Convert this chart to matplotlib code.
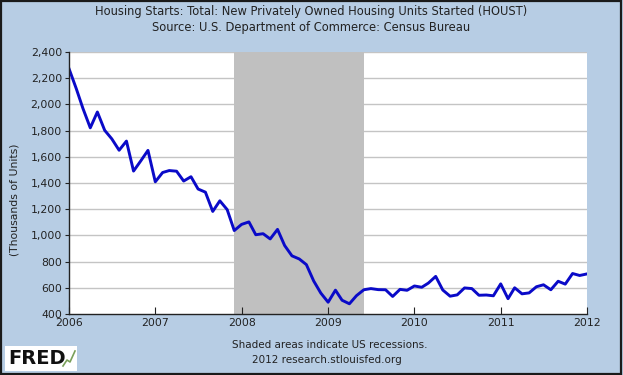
import matplotlib
matplotlib.use("Agg")
import matplotlib.pyplot as plt
import matplotlib.dates as mdates
from matplotlib.ticker import FuncFormatter
from matplotlib.patches import Rectangle
import pandas as pd

# HOUST, thousands of units, monthly Jan 2006 - Jan 2012
starts_2006 = [2273, 2119, 1969, 1821, 1942, 1802, 1737, 1650, 1720, 1491, 1570, 1649]
starts_2007 = [1409, 1480, 1495, 1490, 1415, 1448, 1354, 1330, 1183, 1264, 1197, 1037]
starts_2008 = [1084, 1103, 1005, 1013, 973, 1046, 923, 844, 820, 777, 652, 560]
starts_2009 = [490, 582, 505, 478, 540, 585, 594, 586, 585, 534, 588, 581]
starts_2010 = [614, 604, 636, 687, 583, 536, 546, 599, 594, 543, 545, 539]
starts_2011 = [630, 517, 600, 554, 561, 608, 623, 585, 650, 628, 709, 694]
starts_2012 = [706]

values = starts_2006 + starts_2007 + starts_2008 + starts_2009 + starts_2010 + starts_2011 + starts_2012
dates = pd.date_range("2006-01-01", periods=len(values), freq="MS")

recession_start = "2007-12-01"
recession_end = "2009-06-01"
year_ticks = ["2006", "2007", "2008", "2009", "2010", "2011", "2012"]
y_ticks = [400, 600, 800, 1000, 1200, 1400, 1600, 1800, 2000, 2200, 2400]

bg = "#b7cde4"
fig = plt.figure(figsize=(6.23, 3.75), dpi=100, facecolor=bg)
ax = fig.add_axes([69 / 623, 1 - 314 / 375, (587 - 69) / 623, (314 - 52) / 375])
ax.set_facecolor("white")

ax.axvspan(pd.Timestamp(recession_start), pd.Timestamp(recession_end), color="#c0c0c0", lw=0, zorder=1)
for v in y_ticks[1:]:
    ax.axhline(v, color="#c4c4c4", lw=1.0, zorder=0.5)
ax.plot(dates, values, color="#0a0ac8", lw=2.1, zorder=3, solid_joinstyle="round")

ax.set_xlim(pd.Timestamp("2006-01-01"), pd.Timestamp("2012-01-01"))
ax.set_ylim(400, 2400)
ax.set_xticks([pd.Timestamp(y + "-01-01") for y in year_ticks])
ax.xaxis.set_major_formatter(mdates.DateFormatter("%Y"))
ax.set_yticks(y_ticks)
ax.yaxis.set_major_formatter(FuncFormatter(lambda v, p: f"{int(v):,}"))

for s in ["top", "right"]:
    ax.spines[s].set_visible(False)
for s in ["left", "bottom"]:
    ax.spines[s].set_color("#222222")
    ax.spines[s].set_linewidth(1.0)
    ax.spines[s].set_zorder(4)

ax.tick_params(axis="x", direction="in", length=5, color="#222222", labelsize=7.8, pad=3, labelcolor="#222222")
ax.tick_params(axis="y", direction="out", length=3, color="#222222", labelsize=7.8, pad=2, labelcolor="#222222")

fig.text(0.5, 1 - 12 / 375, "Housing Starts: Total: New Privately Owned Housing Units Started (HOUST)",
         ha="center", va="center", fontsize=8.3, color="#222222")
fig.text(0.5, 1 - 27 / 375, "Source: U.S. Department of Commerce: Census Bureau",
         ha="center", va="center", fontsize=8.3, color="#222222")
fig.text(15 / 623, 1 - 200 / 375, "(Thousands of Units)", rotation=90,
         ha="center", va="center", fontsize=7.8, color="#222222")
fig.text(330 / 623, 1 - 345 / 375, "Shaded areas indicate US recessions.",
         ha="center", va="center", fontsize=7.5, color="#222222")
fig.text(327 / 623, 1 - 360 / 375, "2012 research.stlouisfed.org",
         ha="center", va="center", fontsize=7.5, color="#222222")

# FRED logo
fig.patches.append(Rectangle((5 / 623, 1 - 371 / 375), 72 / 623, 25 / 375,
                             transform=fig.transFigure, facecolor="white", edgecolor="none"))
fig.text(8 / 623, 1 - 358 / 375, "FRED", ha="left", va="center", fontsize=14,
         fontweight="bold", color="#111111")
fig.lines.append(plt.Line2D([63 / 623, 67 / 623, 70 / 623, 75 / 623],
                            [1 - 366 / 375, 1 - 360 / 375, 1 - 362 / 375, 1 - 351 / 375],
                            transform=fig.transFigure, color="#7aa05a", lw=1.2))

# outer frame
fig.patches.append(Rectangle((0.002, 0.003), 0.995, 0.994, transform=fig.transFigure,
                             facecolor="none", edgecolor="#1a1a1a", lw=1.6))

fig.savefig("out.png", dpi=100, facecolor=bg)
